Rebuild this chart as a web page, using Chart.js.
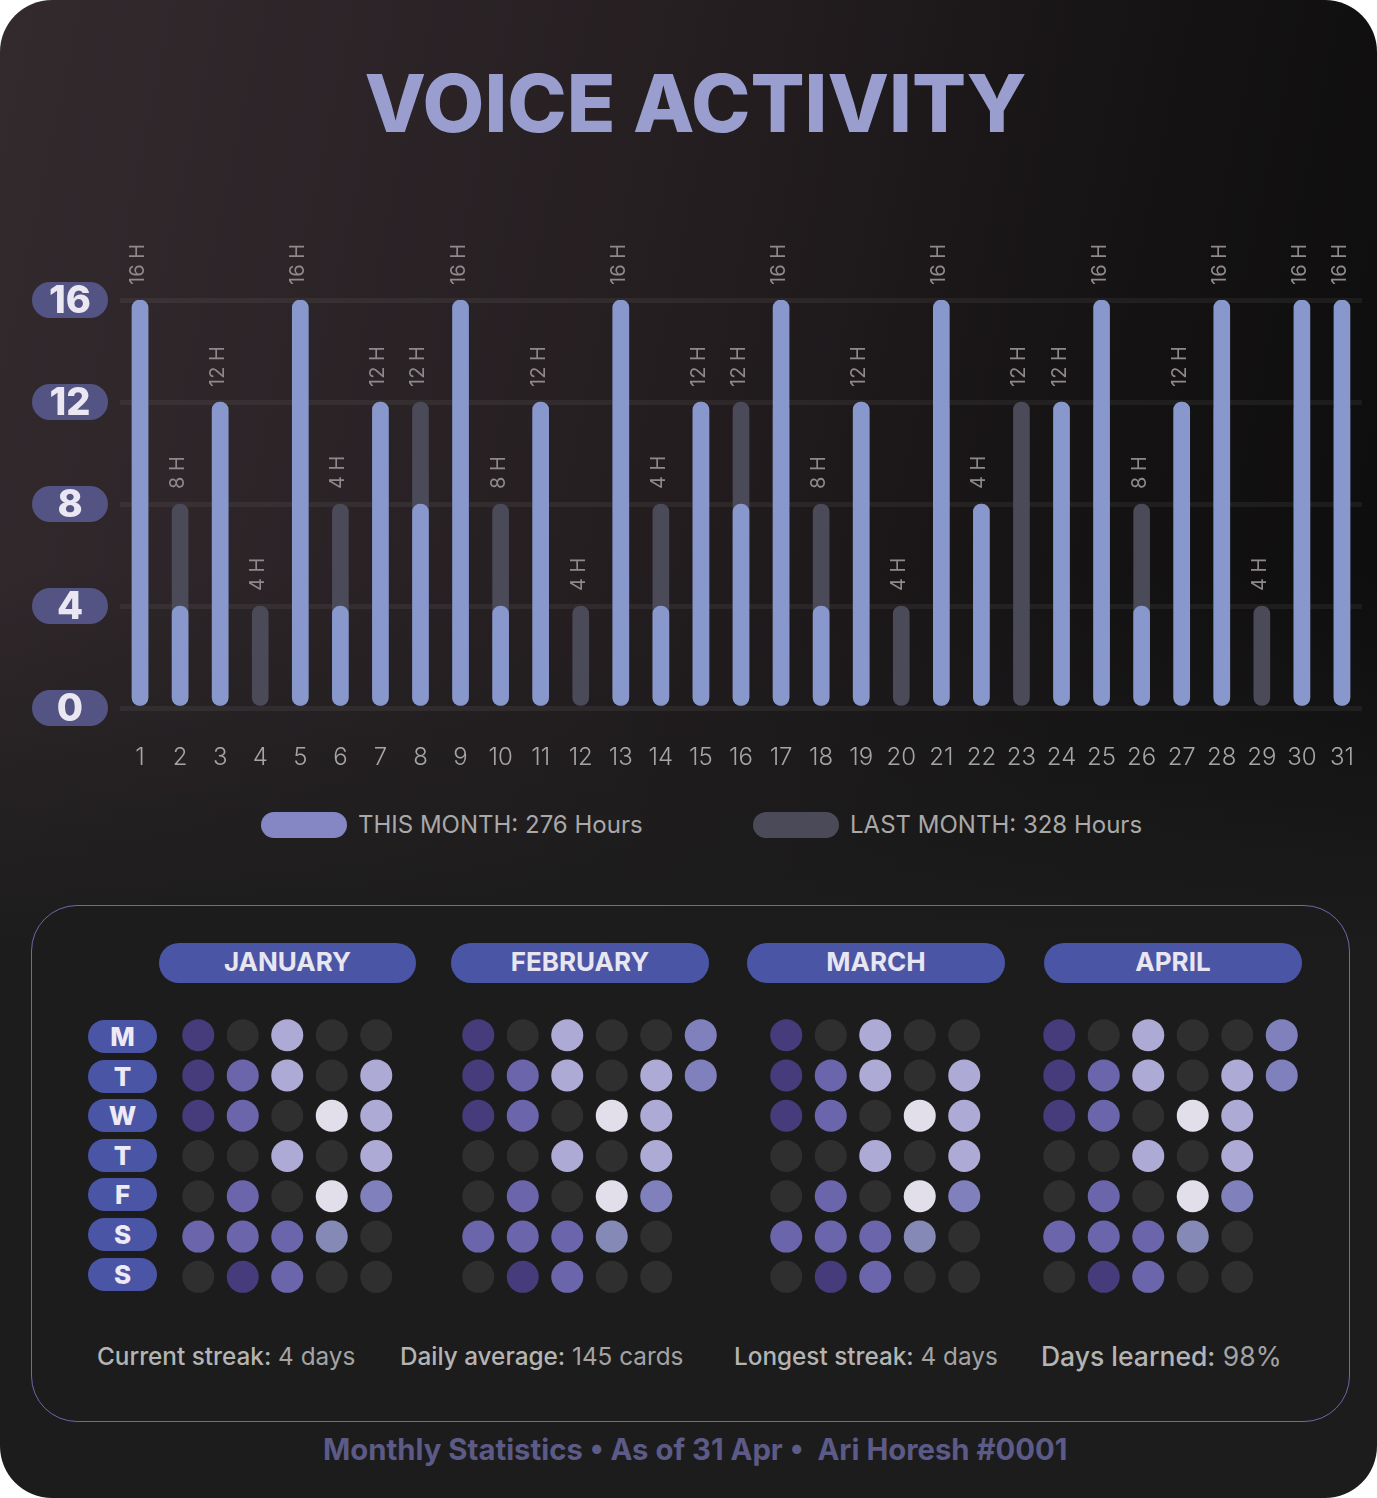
<!DOCTYPE html>
<html><head><meta charset="utf-8">
<script src="https://cdn.jsdelivr.net/npm/chart.js@4.4.1/dist/chart.umd.min.js"></script>
<style>
html,body{margin:0;padding:0;background:#ffffff;}
#card{position:relative;width:1377px;height:1498px;border-radius:52px;overflow:hidden;
  font-family:Inter,'Noto Sans',sans-serif;
  background:
    linear-gradient(to bottom, rgba(28,28,28,0) 0%, rgba(28,28,28,0) 38%, #1c1c1c 64%, #1c1c1c 100%),
    linear-gradient(102deg, #332a2e 0%, #261f22 40%, #141213 72%, #0b0b0b 100%);}
.abs{position:absolute;line-height:1;white-space:nowrap;}
#title{left:0;width:1391px;text-align:center;top:63px;font-size:80px;font-weight:800;color:#9a9ecf;}
canvas{position:absolute;}
.lg-pill{position:absolute;width:86px;height:26px;border-radius:13px;}
.lg-text{font-size:24px;color:#a9a9a9;font-weight:400;}
#panel{position:absolute;left:31px;top:905px;width:1317px;height:515px;border:1.5px solid #6b69ad;border-radius:46px;background:rgba(28,28,28,0.5);}
.mpill{position:absolute;height:40px;border-radius:20px;background:#4a55a5;color:#e8e6f0;font-size:26px;font-weight:700;line-height:37px;text-align:center;}
.dpill{position:absolute;left:88px;width:69px;height:33px;border-radius:16.5px;background:#4a55a5;color:#eeeaf5;font-size:26px;font-weight:800;line-height:33px;text-align:center;}
.stat{font-size:24px;color:#a3a3a3;}
.stat b{font-weight:500;color:#b4b4b4;}
#footer{left:323px;top:1435px;font-size:29.3px;font-weight:700;color:#5c5a86;white-space:pre;}
</style></head>
<body>
<div id="card">
  <div class="abs" id="title">VOICE ACTIVITY</div>
  <canvas id="bars" width="1377" height="560" style="left:0;top:230px;width:1377px;height:560px;"></canvas>
  <div id="legend"></div>
  <div id="panel"></div>
  <div id="heat"></div>
  <div id="stats"></div>
  <div class="abs" id="footer"></div>
</div>
<script>
// ---------- DATA ----------
const days = ['1','2','3','4','5','6','7','8','9','10','11','12','13','14','15','16','17','18','19','20','21','22','23','24','25','26','27','28','29','30','31'];
const thisMonth = [16,4,12,null,16,4,12,8,16,4,12,null,16,4,12,8,16,4,12,null,16,8,null,12,16,4,12,16,null,16,16];
const lastMonth = [16,8,12,4,16,8,12,12,16,8,12,4,16,8,12,12,12,8,12,4,12,8,12,12,12,8,12,12,4,12,12];
const barLabels = ['16 H','8 H','12 H','4 H','16 H','4 H','12 H','12 H','16 H','8 H','12 H','4 H','16 H','4 H','12 H','12 H','16 H','8 H','12 H','4 H','16 H','4 H','12 H','12 H','16 H','8 H','12 H','16 H','4 H','16 H','16 H'];
const yTicks = [0,4,8,12,16];
const seriesNames = ['THIS MONTH: 276 Hours','LAST MONTH: 328 Hours'];

const months = ['JANUARY','FEBRUARY','MARCH','APRIL'];
const weekdays = ['M','T','W','T','F','S','S'];
const janLevels = [[1,0,4,0,0],[1,2,4,0,4],[1,2,0,5,4],[0,0,4,0,4],[0,2,0,5,3],[2,2,2,6,0],[0,1,2,0,0]];
const febLevels = [[1,0,4,0,0,3],[1,2,4,0,4,3],[1,2,0,5,4],[0,0,4,0,4],[0,2,0,5,3],[2,2,2,6,0],[0,1,2,0,0]];
const marLevels = [[1,0,4,0,0],[1,2,4,0,4],[1,2,0,5,4],[0,0,4,0,4],[0,2,0,5,3],[2,2,2,6,0],[0,1,2,0,0]];
const aprLevels = [[1,0,4,0,0,3],[1,2,4,0,4,3],[1,2,0,5,4],[0,0,4,0,4],[0,2,0,5,3],[2,2,2,6,0],[0,1,2,0,0]];

const statLabels = ['Current streak:','Daily average:','Longest streak:','Days learned:'];
const statValues = ['4 days','145 cards','4 days','98%'];
const footerText = 'Monthly Statistics • As of 31 Apr •  Ari Horesh #0001';

// ---------- STYLE ----------
const blue = '#8897cc', gray = '#4b4a59';
const legendColors = ['#8586c4', '#4b4a59'];
const palette = ['#2f2f2f','#463c7b','#6b66ab','#7f80bc','#aeaad6','#e3dfea','#8489b6'];

// ---------- BAR CHART ----------
const yPills = {
  id:'yPills',
  afterDraw(chart){
    const ctx = chart.ctx, ys = chart.scales.y;
    ctx.save();
    yTicks.forEach(v=>{
      const y = ys.getPixelForValue(v);
      ctx.beginPath();
      ctx.roundRect(32, y-18, 76, 36, 18);
      ctx.fillStyle = '#535483';
      ctx.fill();
      ctx.fillStyle = '#ebe7f2';
      ctx.font = '800 38px Inter';
      ctx.textAlign = 'center';
      ctx.textBaseline = 'middle';
      ctx.fillText(String(v), 70, y+2);
    });
    ctx.restore();
  }
};
const barText = {
  id:'barText',
  afterDatasetsDraw(chart){
    const ctx = chart.ctx;
    ctx.save();
    ctx.font = '400 20px Inter';
    ctx.fillStyle = '#8f898b';
    ctx.textAlign = 'left';
    ctx.textBaseline = 'middle';
    barLabels.forEach((t,i)=>{
      let top = Infinity, x = null;
      chart.data.datasets.forEach((ds,di)=>{
        const el = chart.getDatasetMeta(di).data[i];
        if (ds.data[i] != null && el) { top = Math.min(top, el.y); x = el.x; }
      });
      if (x == null) return;
      ctx.save();
      ctx.translate(x-2, top-15);
      ctx.rotate(-Math.PI/2);
      ctx.fillText(t, 0, 0);
      ctx.restore();
    });
    ctx.restore();
  }
};

new Chart(document.getElementById('bars'), {
  type:'bar',
  data:{
    labels: days,
    datasets:[
      {label:seriesNames[0], data:thisMonth, backgroundColor:blue, barThickness:16, borderRadius:8, borderSkipped:false, grouped:false, order:0},
      {label:seriesNames[1], data:lastMonth, backgroundColor:gray, barThickness:16, borderRadius:8, borderSkipped:false, grouped:false, order:1}
    ]
  },
  options:{
    responsive:false, animation:false,
    layout:{padding:{top:70,left:120,right:15,bottom:0}, autoPadding:false},
    plugins:{legend:{display:false}, tooltip:{enabled:false}},
    scales:{
      x:{grid:{display:false}, border:{display:false},
         ticks:{color:'#a5a5a5', font:{family:'Inter', size:24, weight:300}, padding:27, maxRotation:0, autoSkip:false},
         afterFit(s){ s.height = 82; s.paddingLeft = 0; s.paddingRight = 0; }},
      y:{min:0, max:16, grid:{color:'rgba(255,255,255,0.055)', lineWidth:5, drawTicks:false}, border:{display:false},
         ticks:{display:false, stepSize:4},
         afterFit(s){ s.width = 0; s.paddingTop = 0; s.paddingBottom = 0; }}
    }
  },
  plugins:[yPills, barText]
});

// ---------- LEGEND ----------
const legendPos = [[261,358],[753,850]];
const lg = document.getElementById('legend');
seriesNames.forEach((name,i)=>{
  const p = document.createElement('div');
  p.className='lg-pill'; p.style.left=legendPos[i][0]+'px'; p.style.top='812px'; p.style.background=legendColors[i];
  lg.appendChild(p);
  const t = document.createElement('div');
  t.className='abs lg-text'; t.style.left=legendPos[i][1]+'px'; t.style.top='813px'; t.textContent=name;
  lg.appendChild(t);
});

// ---------- HEATMAP ----------
const heat = document.getElementById('heat');
const pillLefts = [159,451,747,1044];
const pillWidths = [257,258,258,258];
months.forEach((m,i)=>{
  const d=document.createElement('div'); d.className='mpill';
  d.style.left=pillLefts[i]+'px'; d.style.top='943px'; d.style.width=pillWidths[i]+'px';
  d.textContent=m; heat.appendChild(d);
});
const rowCenters = [1036,1076,1115,1155,1194,1234,1274];
weekdays.forEach((w,i)=>{
  const d=document.createElement('div'); d.className='dpill';
  d.style.top=(rowCenters[i]-16.5)+'px'; d.textContent=w; heat.appendChild(d);
});
const monthLevels = [janLevels, febLevels, marLevels, aprLevels];
const gridLefts = [176, 456, 764, 1037];
monthLevels.forEach((lv, mi)=>{
  const c = document.createElement('canvas');
  c.width = 267; c.height = 282;
  c.style.left = gridLefts[mi]+'px'; c.style.top = '1015px';
  c.style.width='267px'; c.style.height='282px';
  heat.appendChild(c);
  const pts = [], cols = [];
  lv.forEach((row, r)=>row.forEach((v, w)=>{
    if (v == null) return;
    pts.push({x:w+1, y:r}); cols.push(palette[v]);
  }));
  new Chart(c, {
    type:'scatter',
    data:{datasets:[{data:pts, backgroundColor:cols, borderWidth:0, pointRadius:16, pointHoverRadius:16, clip:false}]},
    options:{
      responsive:false, animation:false,
      layout:{padding:0, autoPadding:false},
      plugins:{legend:{display:false}, tooltip:{enabled:false}},
      scales:{
        x:{type:'linear', min:0.5, max:6.5, display:false},
        y:{type:'linear', min:-0.5, max:6.5, reverse:true, display:false}
      }
    }
  });
});

// ---------- STATS + FOOTER ----------
const statLefts = [97,400,734,1041];
const st = document.getElementById('stats');
statLabels.forEach((l,i)=>{
  const d=document.createElement('div'); d.className='abs stat';
  const fs = i===3 ? 26.5 : 24.3;
  d.style.fontSize = fs+'px';
  d.style.left=statLefts[i]+'px'; d.style.top=(1356-fs/2)+'px';
  const b=document.createElement('b'); b.textContent=l;
  d.appendChild(b); d.appendChild(document.createTextNode(' '+statValues[i]));
  st.appendChild(d);
});
document.getElementById('footer').textContent = footerText;
</script>
</body></html>
